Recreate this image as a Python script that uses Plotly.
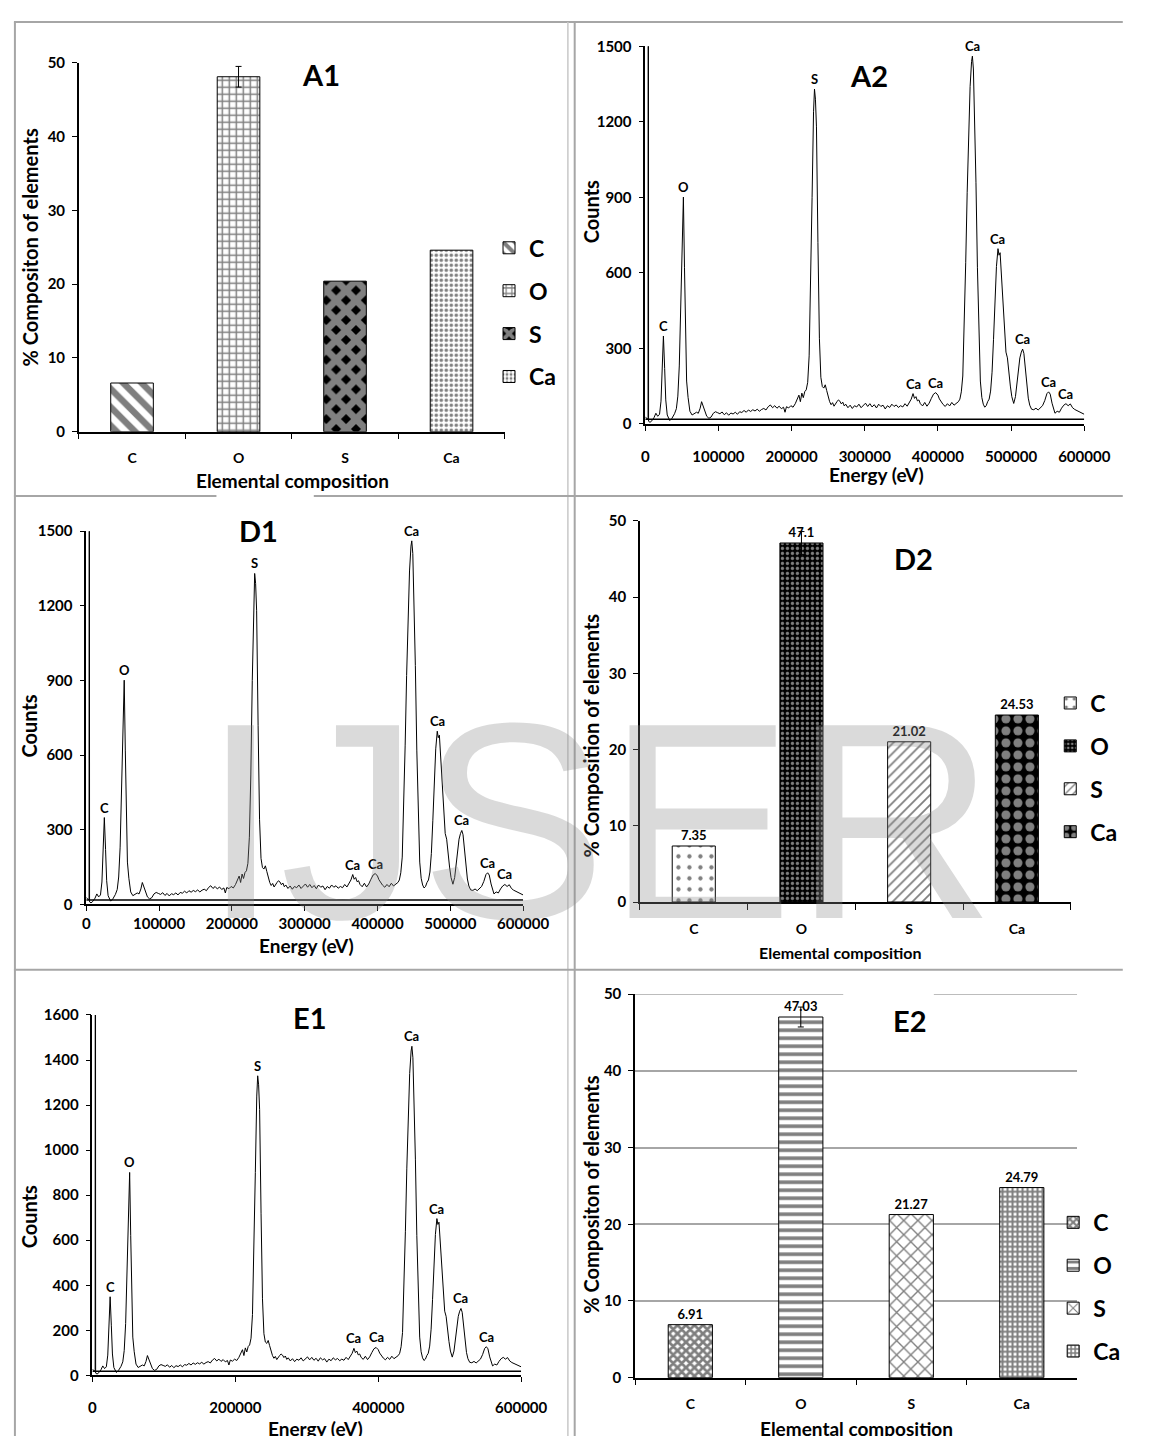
import plotly.graph_objects as go

# page is 1149x1444; the browser keeps its default 8px body margin,
# so the figure itself is 16px smaller and all reference pixel positions are offset by 8
PAGE_W, PAGE_H, OFF = 1149, 1444, 8
W, H = PAGE_W - 2 * OFF, PAGE_H - 2 * OFF
FONT = "Lato"

# ---------------- data ----------------
elements = ["C", "O", "S", "Ca"]

a1_percent = [6.6, 48.1, 20.4, 24.6]
a1_error = [0, 1.4, 0, 0]

d2_percent = [7.35, 47.1, 21.02, 24.53]
d2_error = [0, 1.5, 0, 0]

e2_percent = [6.91, 47.03, 21.27, 24.79]
e2_error = [0, 1.3, 0, 0]

energy_ev = [
    0, 1500, 3000, 3800, 4100, 4500, 6500, 9000, 12000, 14500,
    17000, 19500, 21500, 23000, 24800, 26500, 28000, 30000, 33500, 36500,
    40000, 42500, 44500, 46500, 48500, 50500, 52100, 53600, 55000, 56500,
    58500, 61000, 64000, 67000, 70000, 72500, 75000, 77000, 79000, 81500,
    84000, 87000, 90000, 93000, 96000, 99000, 102000, 105000, 108000, 111000,
    114000, 117000, 120000, 123000, 126000, 129000, 132000, 135000, 138000, 141000,
    144000, 147000, 150000, 153000, 156000, 159000, 162000, 165000, 168000, 171000,
    174000, 177000, 180000, 183000, 186000, 189000, 191000, 193000, 196000, 199000,
    202000, 205000, 207500, 210000, 212000, 214000, 216000, 218000, 220000, 222000,
    224000, 226000, 228000, 230000, 231300, 232600, 234000, 236000, 238000, 240000,
    242000, 244000, 246000, 248000, 250000, 252000, 254000, 256000, 258000, 260000,
    262000, 264000, 266000, 268000, 270000, 272000, 274000, 277000, 280000, 283000,
    286000, 289000, 292000, 295000, 298000, 301000, 304000, 307000, 310000, 313000,
    316000, 319000, 322000, 325000, 328000, 331000, 334000, 337000, 340000, 343000,
    346000, 349000, 352000, 355000, 358000, 361000, 363500, 366000, 368000, 370000,
    372000, 374000, 376000, 379000, 382000, 385000, 388000, 391000, 394000, 397000,
    400000, 402000, 404000, 407000, 410000, 413000, 416000, 419000, 422000, 425000,
    428000, 430000, 432000, 434000, 436000, 438000, 440000, 442000, 444000, 446000,
    447100, 448500, 450000, 452000, 454000, 456000, 458000, 460000, 462000, 464000,
    466000, 468000, 470000, 472000, 474000, 476000, 478000, 480000, 482100, 483500,
    485000, 487000, 489000, 491000, 493000, 495000, 497000, 499000, 501000, 503600,
    506000, 508000, 510000, 512000, 514000, 515800, 517500, 519500, 521500, 523500,
    525500, 528000, 531000, 534000, 537000, 540000, 543000, 546000, 549000, 551300,
    553500, 556000, 558000, 560000, 563000, 566000, 569000, 572000, 575000, 578000,
    581000, 584000, 587000, 590000, 593000, 596000, 600000,
]
counts = [
    28, 22, 18, 25, 4000, 10, 6, 12, 25, 42,
    30, 38, 90, 210, 349, 220, 95, 35, 13, 22,
    40, 60, 110, 230, 440, 720, 901, 620, 310, 170,
    105, 50, 35, 40, 46, 42, 62, 88, 72, 46,
    30, 22, 27, 42, 48, 44, 40, 47, 36, 44,
    34, 43, 39, 46, 38, 48, 45, 53, 46, 55,
    49, 56, 51, 58, 50, 57, 61, 55, 68, 75,
    64, 72, 62, 70, 60, 66, 46, 68, 63, 72,
    66, 80, 96, 114, 88, 122, 104, 128, 135, 165,
    270, 520, 900, 1240, 1330, 1290, 1180, 720, 340, 185,
    148, 142, 155, 132, 108, 88, 76, 84, 70, 82,
    88, 95, 90, 79, 86, 71, 78, 64, 74, 61,
    72, 67, 78, 64, 74, 82, 69, 80, 67, 76,
    63, 78, 69, 74, 59, 72, 65, 78, 69, 75,
    65, 72, 67, 80, 70, 86, 98, 120, 101, 108,
    91, 95, 80, 71, 85, 70, 82, 101, 118, 124,
    114, 99, 90, 77, 69, 80, 71, 85, 74, 82,
    88, 98, 127, 190, 380, 640, 920, 1160, 1340, 1440,
    1461, 1410, 1250, 960, 620, 340, 170, 105, 78, 66,
    72, 88, 98, 130, 205, 336, 480, 625, 696, 670,
    680, 580, 440, 340, 285, 262, 195, 150, 108, 81,
    108, 160, 230, 262, 285, 297, 280, 215, 150, 102,
    74, 58, 56, 62, 55, 63, 72, 92, 120, 127,
    118, 82, 56, 42, 50, 46, 62, 74, 80, 72,
    79, 64, 57, 52, 47, 42, 38,
]
assert len(energy_ev) == len(counts)

baseline_energy = [0, 600000]
baseline_counts = [18, 18]

peak_names = ["C", "O", "S", "Ca", "Ca", "Ca", "Ca", "Ca", "Ca", "Ca"]
peak_energy = [24800, 52100, 231300, 366000, 397000, 447100, 482100, 515800, 551300, 575000]
peak_counts = [349, 901, 1330, 120, 124, 1461, 696, 297, 127, 80]
e1_peak_count = 9  # E1 spectrum labels all but the last Ca

ticks_100k = [0, 100000, 200000, 300000, 400000, 500000, 600000]
ticks_200k = [0, 200000, 400000, 600000]


# ---------------- helpers (reference page pixels -> paper) ----------------
def fx(x):
    return (x - OFF) / W


def fy(y):
    return 1 - (y - OFF) / H


def bfont(size):
    return dict(family=FONT, size=size, color="black", weight="bold")


fig = go.Figure()

# ---------------- patterns (style) ----------------
pat_a1 = [
    dict(shape="\\", size=13, solidity=0.5, fgcolor="black", bgcolor="white"),
    dict(shape="+", size=7, solidity=0.38, fgcolor="black", bgcolor="white"),
    dict(shape="x", size=14, solidity=0.74, fgcolor="white", bgcolor="black"),
    dict(shape=".", size=5, solidity=0.4, fgcolor="black", bgcolor="white"),
]
pat_d2 = [
    dict(shape=".", size=11, solidity=0.12, fgcolor="black", bgcolor="white"),
    dict(shape=".", size=5, solidity=0.35, fgcolor="white", bgcolor="black"),
    dict(shape="/", size=7, solidity=0.25, fgcolor="black", bgcolor="white"),
    dict(shape=".", size=12, solidity=0.45, fgcolor="white", bgcolor="black"),
]
pat_e2 = [
    dict(shape="x", size=6, solidity=0.7, fgcolor="black", bgcolor="white"),
    dict(shape="-", size=8, solidity=0.45, fgcolor="black", bgcolor="white"),
    dict(shape="x", size=10, solidity=0.25, fgcolor="black", bgcolor="white"),
    dict(shape="+", size=5, solidity=0.65, fgcolor="black", bgcolor="white"),
]


def add_bars(values, errors, pats, xa, ya, legend_name, with_text):
    for i, el in enumerate(elements):
        err = dict(type="data", array=[errors[i]], visible=errors[i] > 0,
                   color="black", thickness=1, width=3)
        fig.add_trace(go.Bar(
            x=[el], y=[values[i]], width=0.4, name=el,
            legend=legend_name, legendgroup=legend_name + el,
            xaxis=xa, yaxis=ya,
            marker=dict(color="white", line=dict(color="black", width=1), pattern=pats[i]),
            error_y=err,
            text=[str(values[i])] if with_text else None,
            textposition="outside", textfont=bfont(13), cliponaxis=False,
            hoverinfo="skip",
        ))


def add_spectrum(xa, ya):
    fig.add_trace(go.Scatter(x=energy_ev, y=counts, mode="lines",
                             line=dict(color="black", width=1),
                             xaxis=xa, yaxis=ya, showlegend=False, hoverinfo="skip"))
    fig.add_trace(go.Scatter(x=baseline_energy, y=baseline_counts, mode="lines",
                             line=dict(color="black", width=1.5),
                             xaxis=xa, yaxis=ya, showlegend=False, hoverinfo="skip"))


add_bars(a1_percent, a1_error, pat_a1, "x", "y", "legend", False)
add_spectrum("x2", "y2")
add_spectrum("x3", "y3")
add_bars(d2_percent, d2_error, pat_d2, "x4", "y4", "legend2", True)
add_spectrum("x5", "y5")
add_bars(e2_percent, e2_error, pat_e2, "x6", "y6", "legend3", True)


# ---------------- axes ----------------
def cat_x(x0, x1, anchor, standoff):
    return dict(domain=[fx(x0), fx(x1)], anchor=anchor, type="category",
                categoryorder="array", categoryarray=elements, range=[-0.5, 3.5],
                showline=True, linecolor="black", linewidth=1.5,
                ticks="outside", tickson="boundaries", ticklen=6, tickwidth=1.2,
                tickcolor="black", tickfont=bfont(14), ticklabelstandoff=standoff,
                showgrid=False, zeroline=False, fixedrange=True)


def num_x(x0, x1, anchor, tickvals, standoff):
    return dict(domain=[fx(x0), fx(x1)], anchor=anchor, range=[0, 600000],
                tickvals=tickvals, tickformat="d",
                showline=True, linecolor="black", linewidth=1.5,
                ticks="outside", ticklen=5, tickwidth=1.2, tickcolor="black",
                tickfont=bfont(15), ticklabelstandoff=standoff,
                showgrid=False, zeroline=False, fixedrange=True)


def num_y(ytop, ybot, anchor, rng, dtick, grid=False):
    return dict(domain=[fy(ybot), fy(ytop)], anchor=anchor, range=rng, dtick=dtick,
                showline=True, linecolor="black", linewidth=1.5,
                ticks="outside", ticklen=5, tickwidth=1.2, tickcolor="black",
                tickfont=bfont(15), ticklabelstandoff=4,
                showgrid=grid, gridcolor="#a6a6a6", gridwidth=1.5,
                zeroline=False, fixedrange=True)


layout_axes = dict(
    xaxis=cat_x(76.6, 514.2, "y", 13),
    yaxis=num_y(53.3, 427, "x", [0, 50], 10),
    xaxis2=num_x(658.5, 1109.4, "y2", ticks_100k, 13),
    yaxis2=num_y(36.7, 419, "x2", [0, 1500], 300),
    xaxis3=num_x(84.3, 533, "y3", ticks_100k, 0),
    yaxis3=num_y(527.7, 905.7, "x3", [0, 1500], 300),
    xaxis4=cat_x(653, 1095.5, "y4", 13),
    yaxis4=num_y(517.3, 903.3, "x4", [0, 50], 10),
    xaxis5=num_x(90.6, 531, "y5", ticks_200k, 13),
    yaxis5=num_y(1017.7, 1382.7, "x5", [0, 1600], 200),
    xaxis6=cat_x(648, 1102, "y6", 13),
    yaxis6=num_y(996.7, 1385, "x6", [0, 50], 10, grid=True),
)


def legend_at(left, top):
    return dict(x=fx(left), y=fy(top), xanchor="left", yanchor="top",
                font=bfont(23), tracegroupgap=10, bgcolor="rgba(0,0,0,0)",
                traceorder="grouped", itemwidth=30)


# ---------------- annotations ----------------
ann = []


def text_at(x, y, s, size, angle=0):
    ann.append(dict(x=fx(x), y=fy(y), xref="paper", yref="paper", text=s,
                    showarrow=False, font=bfont(size), textangle=angle,
                    xanchor="center", yanchor="middle"))


# panel titles
text_at(325.6, 65, "A1", 29)
text_at(888, 66, "A2", 29)
text_at(261, 527, "D1", 29)
text_at(933.7, 555, "D2", 29)
text_at(314.5, 1020, "E1", 29)
text_at(930, 1023, "E2", 29)

# axis titles
text_at(27, 240, "% Compositon of elements", 20, -90)
text_at(296, 476, "Elemental composition", 19)
text_at(602.5, 204, "Counts", 20, -90)
text_at(896, 470, "Energy (eV)", 19)
text_at(25, 725, "Counts", 20, -90)
text_at(311, 947, "Energy (eV)", 19)
text_at(602.5, 735, "% Composition of elements", 20, -90)
text_at(858.7, 954, "Elemental composition", 16)
text_at(25, 1222, "Counts", 20, -90)
text_at(320, 1437, "Energy (eV)", 19)
text_at(602.5, 1200, "% Compositon of elements", 20, -90)
text_at(875, 1436, "Elemental composition", 19)

# peak labels on spectra
for xa, ya, n in (("x2", "y2", len(peak_names)), ("x3", "y3", len(peak_names)),
                  ("x5", "y5", e1_peak_count)):
    for i in range(n):
        ann.append(dict(x=peak_energy[i], y=peak_counts[i], xref=xa, yref=ya,
                        text=peak_names[i], showarrow=False, font=bfont(13),
                        xanchor="center", yanchor="bottom", yshift=0))

# watermark
ann.append(dict(x=fx(611), y=fy(821), xref="paper", yref="paper", text="IJSER",
                showarrow=False, xanchor="center", yanchor="middle",
                font=dict(family="Liberation Sans", size=280,
                          color="rgba(140,140,140,0.32)")))

# ---------------- panel borders ----------------
BC = "#a6a6a6"
shapes = []


def line_px(x0, y0, x1, y1, color=BC, width=2):
    shapes.append(dict(type="line", xref="paper", yref="paper",
                       x0=fx(x0), y0=fy(y0), x1=fx(x1), y1=fy(y1),
                       line=dict(color=color, width=width), layer="above"))


line_px(10, 12, 1149, 12)
line_px(11, 12, 11, 1444)
line_px(579, 12, 579, 1444, color="#c8c8c8", width=1.5)
line_px(586, 12, 586, 1444)
line_px(10, 492, 218, 492)
line_px(318, 492, 1149, 492)
line_px(10, 972, 1149, 972)

# top (50) gridline of E2, interrupted behind the title area
for d0, d1 in ((0.0, 0.471), (0.676, 1.0)):
    shapes.append(dict(type="line", xref="x6 domain", yref="y6",
                       x0=d0, x1=d1, y0=50, y1=50,
                       line=dict(color="#a6a6a6", width=1.5), layer="below"))

fig.update_layout(
    width=W, height=H, margin=dict(l=0, r=0, t=0, b=0),
    paper_bgcolor="white", plot_bgcolor="white",
    barmode="overlay", showlegend=True,
    legend=legend_at(498, 219),
    legend2=legend_at(1074.5, 680),
    legend3=legend_at(1077.5, 1206),
    annotations=ann, shapes=shapes,
    font=dict(family=FONT, color="black"),
    **layout_axes,
)

fig.write_html("out.html", config={"displayModeBar": False})
